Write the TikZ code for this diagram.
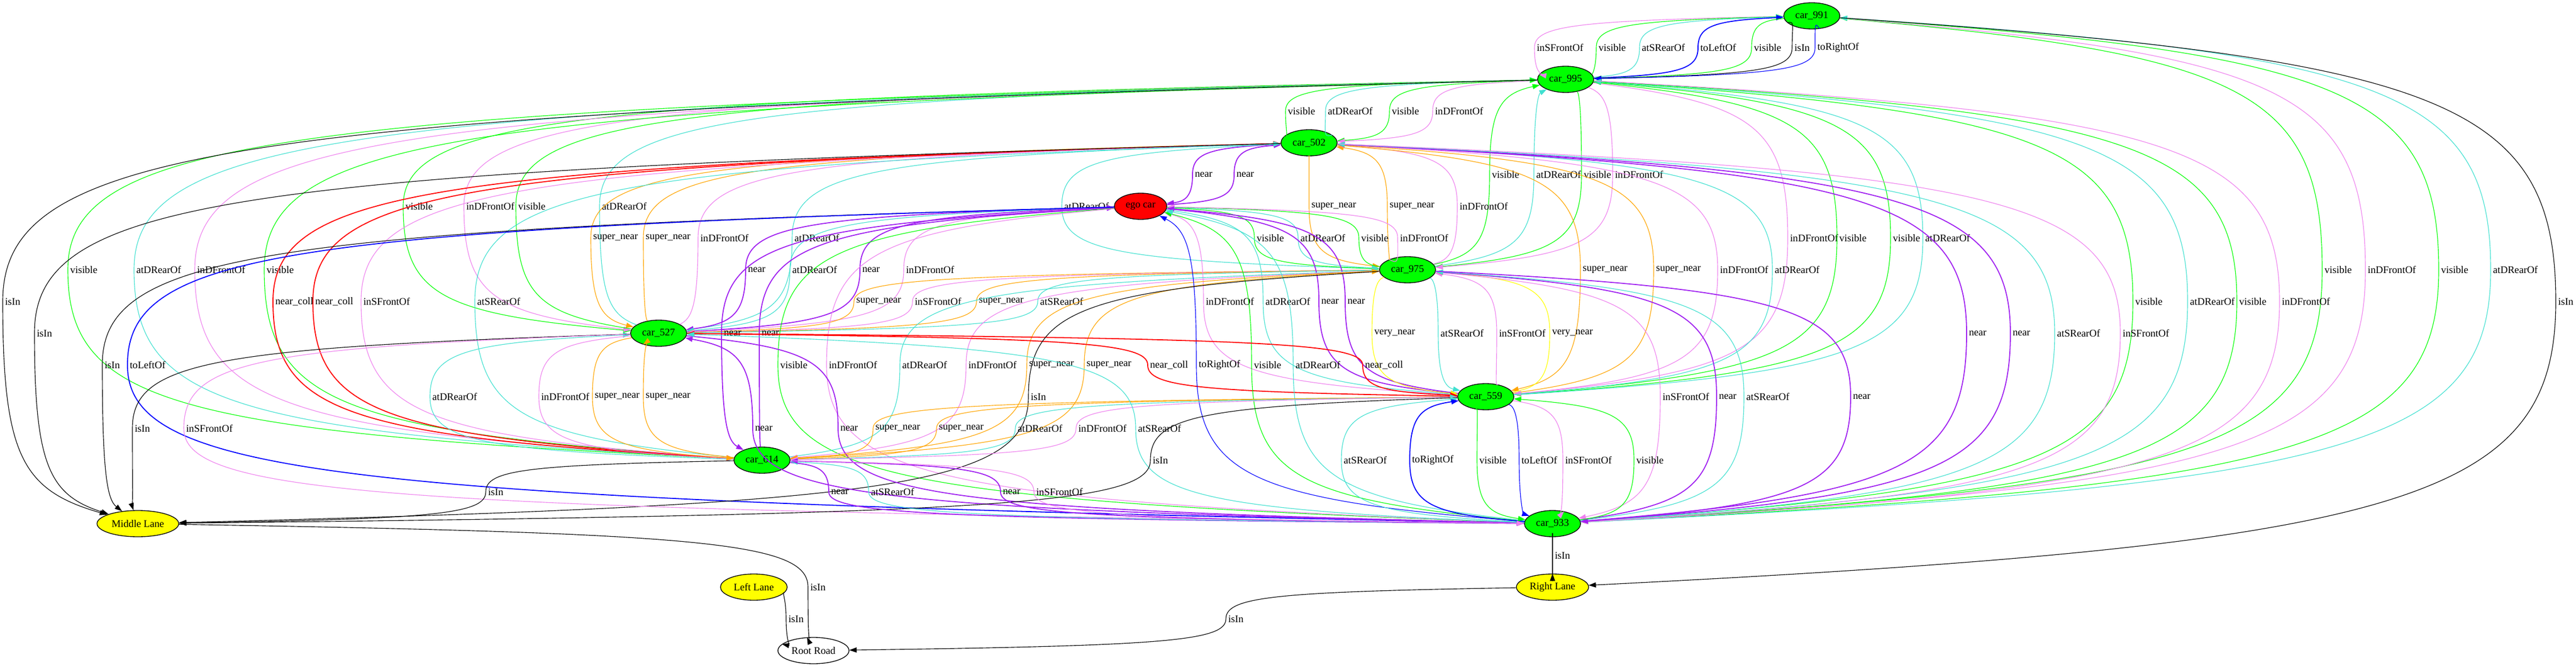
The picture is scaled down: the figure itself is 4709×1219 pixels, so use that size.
\documentclass[tikz,border=0pt]{standalone}
\usepackage{fontspec}
\setmainfont{Liberation Serif}
\usetikzlibrary{calc,arrows.meta,shapes.geometric}
\definecolor{gvgreen}{RGB}{0,255,0}
\definecolor{gvturq}{RGB}{64,224,208}
\definecolor{gvviolet}{RGB}{238,130,238}
\definecolor{gvpurple}{RGB}{160,32,240}
\definecolor{gvorange}{RGB}{255,165,0}
\definecolor{gvyellow}{RGB}{255,255,0}
\definecolor{gvblue}{RGB}{0,0,255}
\definecolor{gvred}{RGB}{255,0,0}
\catcode`\_=12
\tikzset{
 gnode/.style={ellipse, draw=black, line width=1pt, minimum height=36pt, inner sep=0pt, font=\fontsize{14}{16}\selectfont},
 car/.style={gnode, fill=gvgreen, minimum width=77pt},
 ed/.style={line width=0.85pt},
 thk/.style={line width=1.35pt},
 ad/.style={-{Triangle[length=10pt,width=7pt]}},
 au/.style={{Triangle[length=10pt,width=7pt]}-},
 r-visible/.style={draw=gvgreen},
 r-atDRearOf/.style={draw=gvturq},
 r-atSRearOf/.style={draw=gvturq},
 r-inDFrontOf/.style={draw=gvviolet},
 r-inSFrontOf/.style={draw=gvviolet},
 r-near/.style={draw=gvpurple},
 r-super_near/.style={draw=gvorange},
 r-very_near/.style={draw=gvyellow},
 r-near_coll/.style={draw=gvred},
 r-toLeftOf/.style={draw=gvblue},
 r-toRightOf/.style={draw=gvblue},
 r-isIn/.style={draw=black},
 lbl/.style={anchor=west, inner sep=0pt, font=\fontsize{14}{16}\selectfont},
}
\newcounter{ec}
\newcommand\ED[7][]{%
 \stepcounter{ec}%
 \draw[ed, r-#6, #7, #1] let \p1=(#2.center), \p2=({#4-4},{29+58*#5}), \p3=(#3.center) in
   (#2) .. controls ({\x1+0.85*(\x2-\x1)},{\y1+0.15*(\y2-\y1)}) and ({\x2},{\y2+0.7*(\y1-\y2)}) .. (\p2)
   .. controls ({\x2},{\y2+0.7*(\y3-\y2)}) and ({\x3+0.85*(\x2-\x3)},{\y3+0.15*(\y2-\y3)}) .. (#3);
 \node[lbl] (l\theec) at (#4,{29+58*#5}) {#6};%
}
\begin{document}
\begin{tikzpicture}[x=0.75pt,y=-0.75pt]
\useasboundingbox (0,0) rectangle (4709,1219);
% nodes
\node[car] (n991) at (3312,29) {car_991};
\node[car] (n995) at (2862,145) {car_995};
\node[car] (n502) at (2393,261) {car_502};
\node[gnode, fill=gvred, minimum width=72pt] (ego) at (2085,377) {ego car};
\node[car] (n975) at (2573,493) {car_975};
\node[car] (n527) at (1204,609) {car_527};
\node[car] (n559) at (2716,725) {car_559};
\node[car] (n614) at (1393,841) {car_614};
\node[gnode, fill=gvyellow, minimum width=112pt] (ml) at (252,957) {Middle Lane};
\node[car] (n933) at (2838,957) {car_933};
\node[gnode, fill=gvyellow, minimum width=91.5pt] (ll) at (1378,1073) {Left Lane};
\node[gnode, fill=gvyellow, minimum width=99pt] (rl) at (2838,1073) {Right Lane};
\node[gnode, fill=white, minimum width=97.5pt] (rr) at (1487,1189) {Root Road};
% k1
\ED{n991}{n995}{2809}{1}{inSFrontOf}{ad}
\ED{n991}{n995}{2922}{1}{visible}{au}
\ED{n991}{n995}{3001}{1}{atSRearOf}{au}
\ED[thk]{n991}{n995}{3108}{1}{toLeftOf}{au}
\ED{n991}{n995}{3206}{1}{visible}{ad}
\ED{n991}{n995}{3280}{1}{isIn}{ad}
\ED{n991}{n995}{3322}{1}{toRightOf}{ad}
% k3
\ED{n995}{n502}{2354}{3}{visible}{au}
\ED{n995}{n502}{2427}{3}{atDRearOf}{au}
\ED{n995}{n502}{2544}{3}{visible}{ad}
\ED{n995}{n502}{2623}{3}{inDFrontOf}{ad}
% k5
\ED[thk]{n502}{ego}{2184}{5}{near}{ad}
\ED[thk]{n502}{ego}{2260}{5}{near}{au}
\ED{n995}{n975}{2727}{5}{visible}{au}
\ED{n995}{n975}{2808}{5}{atDRearOf}{au}
\ED{n995}{n975}{2895}{5}{visible}{ad}
\ED{n995}{n975}{2952}{5}{inDFrontOf}{ad}
% k6
\ED{n995}{n527}{741}{6}{visible}{ad}
\ED{n995}{n527}{852}{6}{inDFrontOf}{ad}
\ED{n995}{n527}{947}{6}{visible}{au}
\ED{n995}{n527}{1100}{6}{atDRearOf}{au}
\ED{n502}{n975}{1945}{6}{atDRearOf}{ad}
\ED{n502}{n975}{2397}{6}{super_near}{ad}
\ED{n502}{n975}{2540}{6}{super_near}{au}
\ED{n502}{n975}{2668}{6}{inDFrontOf}{au}
% k7
\ED{n502}{n527}{1084}{7}{super_near}{ad}
\ED{n502}{n527}{1180}{7}{super_near}{au}
\ED{n502}{n527}{1280}{7}{inDFrontOf}{au}
\ED{n502}{n527}{1452}{7}{atDRearOf}{ad}
\ED{ego}{n975}{2297}{7}{visible}{ad}
\ED{ego}{n975}{2377}{7}{atDRearOf}{ad}
\ED{ego}{n975}{2488}{7}{visible}{au}
\ED{ego}{n975}{2559}{7}{inDFrontOf}{au}
\ED{n995}{n559}{3272}{7}{inDFrontOf}{ad}
\ED{n995}{n559}{3362}{7}{visible}{ad}
\ED{n995}{n559}{3460}{7}{visible}{au}
\ED{n995}{n559}{3519}{7}{atDRearOf}{au}
% k8
\ED{n995}{n614}{128}{8}{visible}{ad}
\ED{n995}{n614}{249}{8}{atDRearOf}{au}
\ED{n995}{n614}{360}{8}{inDFrontOf}{ad}
\ED{n995}{n614}{487}{8}{visible}{au}
\ED[thk]{ego}{n527}{1367}{8}{near}{ad}
\ED{ego}{n527}{1448}{8}{atDRearOf}{ad}
\ED[thk]{ego}{n527}{1576}{8}{near}{au}
\ED{ego}{n527}{1656}{8}{inDFrontOf}{au}
\ED{n502}{n559}{2893}{8}{super_near}{ad}
\ED{n502}{n559}{3027}{8}{super_near}{au}
\ED{n502}{n559}{3144}{8}{inDFrontOf}{ad}
\ED{n502}{n559}{3244}{8}{atDRearOf}{au}
\ED{n991}{n933}{4249}{8}{visible}{ad}
\ED{n991}{n933}{4328}{8}{inDFrontOf}{ad}
\ED{n991}{n933}{4462}{8}{visible}{au}
\ED{n991}{n933}{4557}{8}{atDRearOf}{au}
% k9
\ED{n995}{ml}{9}{9}{isIn}{ad}
\ED[thk]{n502}{n614}{503}{9}{near_coll}{ad}
\ED[thk]{n502}{n614}{576}{9}{near_coll}{au}
\ED{n502}{n614}{664}{9}{inSFrontOf}{ad}
\ED{n502}{n614}{872}{9}{atSRearOf}{au}
\ED{n975}{n527}{1565}{9}{super_near}{ad}
\ED{n975}{n527}{1672}{9}{inSFrontOf}{ad}
\ED{n975}{n527}{1789}{9}{super_near}{au}
\ED{n975}{n527}{1901}{9}{atSRearOf}{au}
\ED{ego}{n559}{2204}{9}{inDFrontOf}{au}
\ED{ego}{n559}{2313}{9}{atDRearOf}{ad}
\ED[thk]{ego}{n559}{2415}{9}{near}{ad}
\ED[thk]{ego}{n559}{2463}{9}{near}{au}
\ED{n995}{n933}{3903}{9}{visible}{au}
\ED{n995}{n933}{4003}{9}{atDRearOf}{au}
\ED{n995}{n933}{4093}{9}{visible}{ad}
\ED{n995}{n933}{4171}{9}{inDFrontOf}{ad}
\ED{n991}{rl}{4676}{9}{isIn}{ad}
% k10
\ED{n502}{ml}{67}{10}{isIn}{ad}
\ED[thk]{ego}{n614}{1323}{10}{near}{ad}
\ED[thk]{ego}{n614}{1392}{10}{near}{au}
\ED{n975}{n559}{2512}{10}{very_near}{ad}
\ED{n975}{n559}{2633}{10}{atSRearOf}{ad}
\ED{n975}{n559}{2740}{10}{inSFrontOf}{au}
\ED{n975}{n559}{2837}{10}{very_near}{au}
\ED[thk]{n502}{n933}{3599}{10}{near}{au}
\ED[thk]{n502}{n933}{3679}{10}{near}{ad}
\ED{n502}{n933}{3760}{10}{atSRearOf}{au}
\ED{n502}{n933}{3880}{10}{inSFrontOf}{ad}
% k11
\ED{ego}{ml}{191}{11}{isIn}{ad}
\ED[thk]{ego}{n933}{237}{11}{toLeftOf}{ad}
\ED{ego}{n933}{1426}{11}{visible}{ad}
\ED{ego}{n933}{1515}{11}{inDFrontOf}{ad}
\ED{n975}{n614}{1649}{11}{atDRearOf}{au}
\ED{n975}{n614}{1770}{11}{inDFrontOf}{ad}
\ED{n975}{n614}{1881}{11}{super_near}{ad}
\ED{n975}{n614}{1986}{11}{super_near}{au}
\ED[thk]{n527}{n559}{2102}{11}{near_coll}{au}
\ED{ego}{n933}{2191}{11}{toRightOf}{au}
\ED{ego}{n933}{2292}{11}{visible}{au}
\ED{ego}{n933}{2368}{11}{atDRearOf}{au}
\ED[thk]{n527}{n559}{2495}{11}{near_coll}{ad}
% k12
\ED{n527}{n614}{790}{12}{atDRearOf}{au}
\ED{n527}{n614}{989}{12}{inDFrontOf}{ad}
\ED{n527}{n614}{1087}{12}{super_near}{ad}
\ED{n527}{n614}{1180}{12}{super_near}{au}
\ED{n975}{ml}{1884}{12}{isIn}{ad}
\ED{n975}{n933}{3039}{12}{inSFrontOf}{ad}
\ED[thk]{n975}{n933}{3142}{12}{near}{au}
\ED{n975}{n933}{3192}{12}{atSRearOf}{au}
\ED[thk]{n975}{n933}{3387}{12}{near}{ad}
% k13
\ED{n527}{ml}{246}{13}{isIn}{ad}
\ED{n527}{n933}{340}{13}{inSFrontOf}{ad}
\ED[thk]{n527}{n933}{1380}{13}{near}{au}
\ED[thk]{n527}{n933}{1536}{13}{near}{ad}
\ED{n559}{n614}{1600}{13}{super_near}{ad}
\ED{n559}{n614}{1716}{13}{super_near}{au}
\ED{n559}{n614}{1860}{13}{atDRearOf}{au}
\ED{n559}{n614}{1971}{13}{inDFrontOf}{ad}
\ED{n527}{n933}{2080}{13}{atSRearOf}{au}
% k14
\ED{n559}{ml}{2107}{14}{isIn}{ad}
\ED{n559}{n933}{2456}{14}{atSRearOf}{au}
\ED[thk]{n559}{n933}{2581}{14}{toRightOf}{au}
\ED{n559}{n933}{2704}{14}{visible}{ad}
\ED{n559}{n933}{2781}{14}{toLeftOf}{ad}
\ED{n559}{n933}{2861}{14}{inSFrontOf}{ad}
\ED{n559}{n933}{2991}{14}{visible}{au}
% k15
\ED{n614}{ml}{892}{15}{isIn}{ad}
\ED[thk]{n614}{n933}{1519}{15}{near}{ad}
\ED{n614}{n933}{1592}{15}{atSRearOf}{au}
\ED[thk]{n614}{n933}{1833}{15}{near}{au}
\ED{n614}{n933}{1894}{15}{inSFrontOf}{ad}
% k17-19
\ED{n933}{rl}{2842}{17}{isIn}{ad}
\ED{ml}{rr}{1481}{18}{isIn}{ad}
\ED{ll}{rr}{1441}{19}{isIn}{ad}
\ED{rl}{rr}{2245}{19}{isIn}{ad}
\end{tikzpicture}
\end{document}
